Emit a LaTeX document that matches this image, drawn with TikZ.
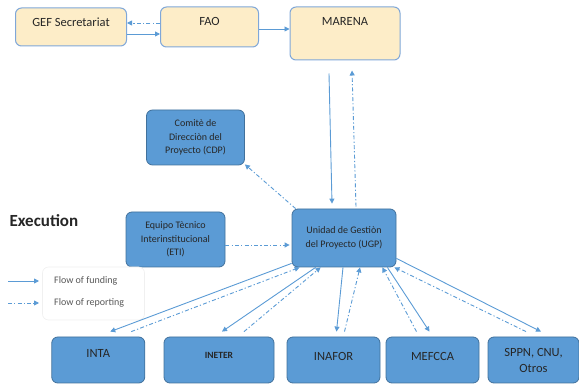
\documentclass[tikz,border=0pt]{standalone}
\usepackage{fontspec}
\setmainfont{Carlito}
\usepackage{tikz}
\usetikzlibrary{arrows.meta}
\definecolor{boxyellow}{HTML}{FDEDC8}
\definecolor{topline}{HTML}{7FA7D9}
\definecolor{boxblue}{HTML}{5B9BD5}
\definecolor{blueline}{HTML}{41719C}
\definecolor{arrowblue}{HTML}{5B9BD5}

\begin{document}
\begin{tikzpicture}[>={Triangle[length=5pt, width=5pt]}, x=1pt, y=-1pt,
		topbox/.style={
			rectangle,
			rounded corners=6pt,
			draw=topline, fill=boxyellow, line width=1pt,
			inner sep=0pt,
			font=\fontsize{12.5}{15}\selectfont, text=black!85},
		bluebox/.style={
			rectangle,
			rounded corners=6pt,
			draw=blueline, fill=boxblue, line width=0.8pt,
			inner sep=0pt, align=center,
			font=\fontsize{10}{13.5}\selectfont, text=black!85},
		bottombox/.style={bluebox, minimum height=46pt,
			font=\fontsize{12.5}{16}\selectfont},
		textup/.style={text height=9pt, text depth=#1},
		legendbox/.style={rectangle, rounded corners=6pt, draw=black!6, fill=white, line width=0.6pt},
		legendtext/.style={inner sep=0pt, anchor=west, text=black!65,
			font=\fontsize{10}{12}\selectfont},
		fund/.style={draw=arrowblue, line width=0.9pt, ->},
		rep/.style={fund, dash pattern=on 4pt off 2.2pt on 1.2pt off 2.2pt}]
		\useasboundingbox (0,0) rectangle (579,387);
		% top row
		\node[topbox, minimum width=111pt, minimum height=38pt, textup=9pt] (gef) at (71,27) {GEF Secretariat};
		\node[topbox, minimum width=98pt, minimum height=40pt, textup=11pt] (fao) at (209.5,27) {FAO};
		\node[topbox, minimum width=110pt, minimum height=53pt, textup=25pt] (marena) at (345,33.5) {MARENA};
		\draw [rep] ([yshift=4pt]fao.west) -- ([yshift=4pt]gef.east);
		\draw [fund] ([yshift=-7pt]gef.east) -- ([yshift=-7pt]fao.west);
		\draw [fund] ([yshift=-2pt]fao.east) -- ([yshift=4.5pt]marena.west);
		% execution
		\node[bluebox, minimum width=98pt, minimum height=55pt] (cdp) at (195.5,137.5) {Comitè de\\Direcciòn del\\Proyecto (CDP)};
		\node[bluebox, minimum width=99pt, minimum height=55pt] (eti) at (175.5,239.5) {Equipo Tècnico\\Interinstitucional\\(ETI)};
		\node[bluebox, minimum width=104pt, minimum height=58pt] (ugp) at (344,238) {Unidad de Gestiòn\\del Proyecto (UGP)};
		\draw [fund] ([xshift=-16pt,yshift=-13pt]marena.south) -- ([xshift=-12pt,yshift=5pt]ugp.north);
		\draw [rep] ([xshift=12pt,yshift=2pt]ugp.north) -- ([xshift=7pt,yshift=-10pt]marena.south);
		\draw [rep] ([xshift=4pt]ugp.north west) -- ([yshift=1pt]cdp.south east);
		\draw [rep] ([yshift=-5.5pt]eti.east) -- ([xshift=-2pt,yshift=-7pt]ugp.west);
		\node[anchor=west, text=black!85, font=\fontsize{17}{20}\selectfont\bfseries] (exec) at (6,221) {Execution};
		% legend
		\node[legendbox, minimum width=102pt, minimum height=53pt] (legend) at (93.5,293.5) {};
		\node[legendtext] (fundtext) at (54,281) {Flow of funding};
		\node[legendtext] (reptext) at (54,303) {Flow of reporting};
		\coordinate (fundtail) at (8,281);
		\coordinate (reptail) at (8,303);
		\draw [fund] (fundtail) -- ([xshift=-15pt]fundtext.west);
		\draw [rep] (reptail) -- ([xshift=-15pt]reptext.west);
		% bottom row
		\node[bottombox, minimum width=93pt, textup=13pt] (inta) at (98.25,360) {INTA};
		\node[bottombox, minimum width=110pt, textup=12pt, font=\fontsize{9.5}{11}\selectfont\bfseries] (ineter) at (219,360) {INETER};
		\node[bottombox, minimum width=93pt, textup=8pt] (inafor) at (333.5,360) {INAFOR};
		\node[bottombox, minimum width=93pt, textup=8pt] (mefcca) at (432.5,360) {MEFCCA};
		\node[bottombox, minimum width=91pt] (sppn) at (533.5,360) {SPPN, CNU,\\Otros};
		\draw [fund] ([yshift=4pt]ugp.south west) -- ([xshift=12pt,yshift=5pt]inta.north);
		\draw [rep] ([xshift=33pt,yshift=5pt]inta.north) -- ([xshift=8pt]ugp.south west);
		\draw [fund] ([xshift=24pt]ugp.south west) -- ([xshift=3pt,yshift=5pt]ineter.north);
		\draw [rep] ([xshift=25pt,yshift=5pt]ineter.north) -- ([xshift=29pt]ugp.south west);
		\draw [fund] ([xshift=-1pt]ugp.south) -- ([xshift=3pt,yshift=5pt]inafor.north);
		\draw [rep] ([xshift=11pt,yshift=5pt]inafor.north) -- ([xshift=16pt]ugp.south);
		\draw [rep] ([xshift=-16pt,yshift=5pt]mefcca.north) -- ([xshift=-14pt]ugp.south east);
		\draw [fund] ([xshift=-9pt]ugp.south east) -- ([xshift=-3pt,yshift=5pt]mefcca.north);
		\draw [rep] ([xshift=-7.5pt,yshift=5pt]sppn.north) -- ([xshift=-2pt]ugp.south east);
		\draw [fund] ([yshift=9pt]ugp.south east) -- ([xshift=7.5pt,yshift=5pt]sppn.north);
\end{tikzpicture}
\end{document}
